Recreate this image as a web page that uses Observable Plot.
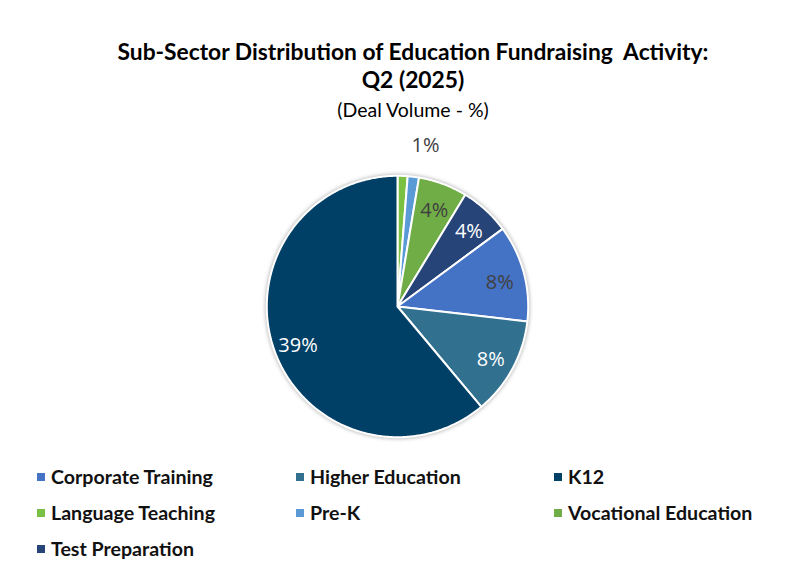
<!DOCTYPE html>
<html>
<head>
<meta charset="utf-8">
<script src="https://cdn.jsdelivr.net/npm/d3@7"></script>
<script src="https://cdn.jsdelivr.net/npm/@observablehq/plot@0.6"></script>
<style>
  html, body { margin: 0; padding: 0; background: #fff; }
  #wrap { position: relative; width: 795px; height: 568px; overflow: hidden; font-family: Lato, "Open Sans", sans-serif; }
  .title { position: absolute; left: 0; width: 826px; text-align: center; font-weight: bold; font-size: 22.8px; color: #000; white-space: pre; }
  .sub { position: absolute; left: 0; width: 826px; text-align: center; font-size: 19.5px; color: #000; font-family: Lato, sans-serif; }
  #chart { position: absolute; left: 214px; top: 123px; }
  #chart svg g[aria-label="line"] { filter: drop-shadow(0 0 2px rgba(0,0,0,0.35)); }
  .leg { position: absolute; font-weight: bold; font-size: 19.6px; color: #111; white-space: nowrap; }
  .leg span.sw { display: inline-block; width: 8px; height: 8px; margin-right: 6px; vertical-align: 3px; }
</style>
</head>
<body>
<div id="wrap">
  <div class="title" style="top:37px">Sub-Sector Distribution of Education Fundraising  Activity:</div>
  <div class="title" style="top:65px">Q2 (2025)</div>
  <div class="sub" style="top:98px">(Deal Volume - %)</div>
  <div id="chart"></div>
  <div id="legend"></div>
</div>
<script>
// Data (slice order clockwise from 12 o'clock)
const categories = ["Language Teaching", "Pre-K", "Vocational Education", "Test Preparation", "Corporate Training", "Higher Education", "K12"];
const values = [0.8, 0.9, 3.9, 4.0, 7.7, 7.8, 39.4];
const colors = ["#7AC143", "#5B9BD5", "#70AD47", "#264478", "#4472C4", "#31708F", "#003F66"];
const labelColors = ["#ffffff", "#404040", "#404040", "#ffffff", "#404040", "#ffffff", "#ffffff"];
// Legend order
const legendOrder = ["Corporate Training", "Higher Education", "K12", "Language Teaching", "Pre-K", "Vocational Education", "Test Preparation"];

const data = categories.map((c, i) => ({category: c, value: values[i], color: colors[i], labelColor: labelColors[i]}));
const arcs = d3.pie().sort(null).value(d => d.value).startAngle(0).endAngle(2 * Math.PI)(data);

// Build wedge polygons in unit coordinates
const wedgePts = [];
for (const a of arcs) {
  const c = a.data.category;
  wedgePts.push({category: c, x: 0, y: 0});
  const n = Math.max(4, Math.ceil((a.endAngle - a.startAngle) / 0.01));
  for (let k = 0; k <= n; k++) {
    const t = a.startAngle + (a.endAngle - a.startAngle) * k / n;
    wedgePts.push({category: c, x: Math.sin(t), y: Math.cos(t)});
  }
  wedgePts.push({category: c, x: 0, y: 0});
}

// Labels
const labels = arcs.map(a => {
  const mid = (a.startAngle + a.endAngle) / 2;
  const small = a.data.value < 2;
  const r = small ? 1.26 : 0.81;
  return {
    category: a.data.category,
    text: Math.round(a.data.value) + "%",
    x: r * Math.sin(mid),
    y: r * Math.cos(mid),
    color: a.data.labelColor,
    dx: a.data.category === "Pre-K" ? 8 : (a.data.category === "Language Teaching" ? -8 : 0)
  };
});

const plot = Plot.plot({
  width: 366,
  height: 366,
  margin: 0,
  x: {domain: [-1.4, 1.4], axis: null},
  y: {domain: [-1.4, 1.4], axis: null},
  color: {domain: categories, range: colors},
  marks: [
    Plot.line(wedgePts, {x: "x", y: "y", z: "category", fill: "category", stroke: "#fff", strokeWidth: 2, strokeLinejoin: "round", curve: "linear"}),
    Plot.text(labels, {x: "x", y: "y", text: "text", fill: d => d.color, dy: 3, fontSize: 20, fontFamily: "'Open Sans', sans-serif"})
  ]
});
document.getElementById("chart").appendChild(plot);
// small horizontal nudges for the two outside labels
plot.querySelectorAll('g[aria-label="text"] text').forEach((t, i) => {
  const dx = labels[i].dx;
  if (dx) t.setAttribute("transform", (t.getAttribute("transform") || "") + ` translate(${dx},0)`);
});

// Legend
const legPos = [[37, 465], [296, 465], [554, 465], [37, 501], [296, 501], [554, 501], [37, 537]];
const leg = document.getElementById("legend");
legendOrder.forEach((c, i) => {
  const d = document.createElement("div");
  d.className = "leg";
  d.style.left = legPos[i][0] + "px";
  d.style.top = legPos[i][1] + "px";
  d.innerHTML = `<span class="sw" style="background:${colors[categories.indexOf(c)]}"></span>${c}`;
  leg.appendChild(d);
});
</script>
</body>
</html>
